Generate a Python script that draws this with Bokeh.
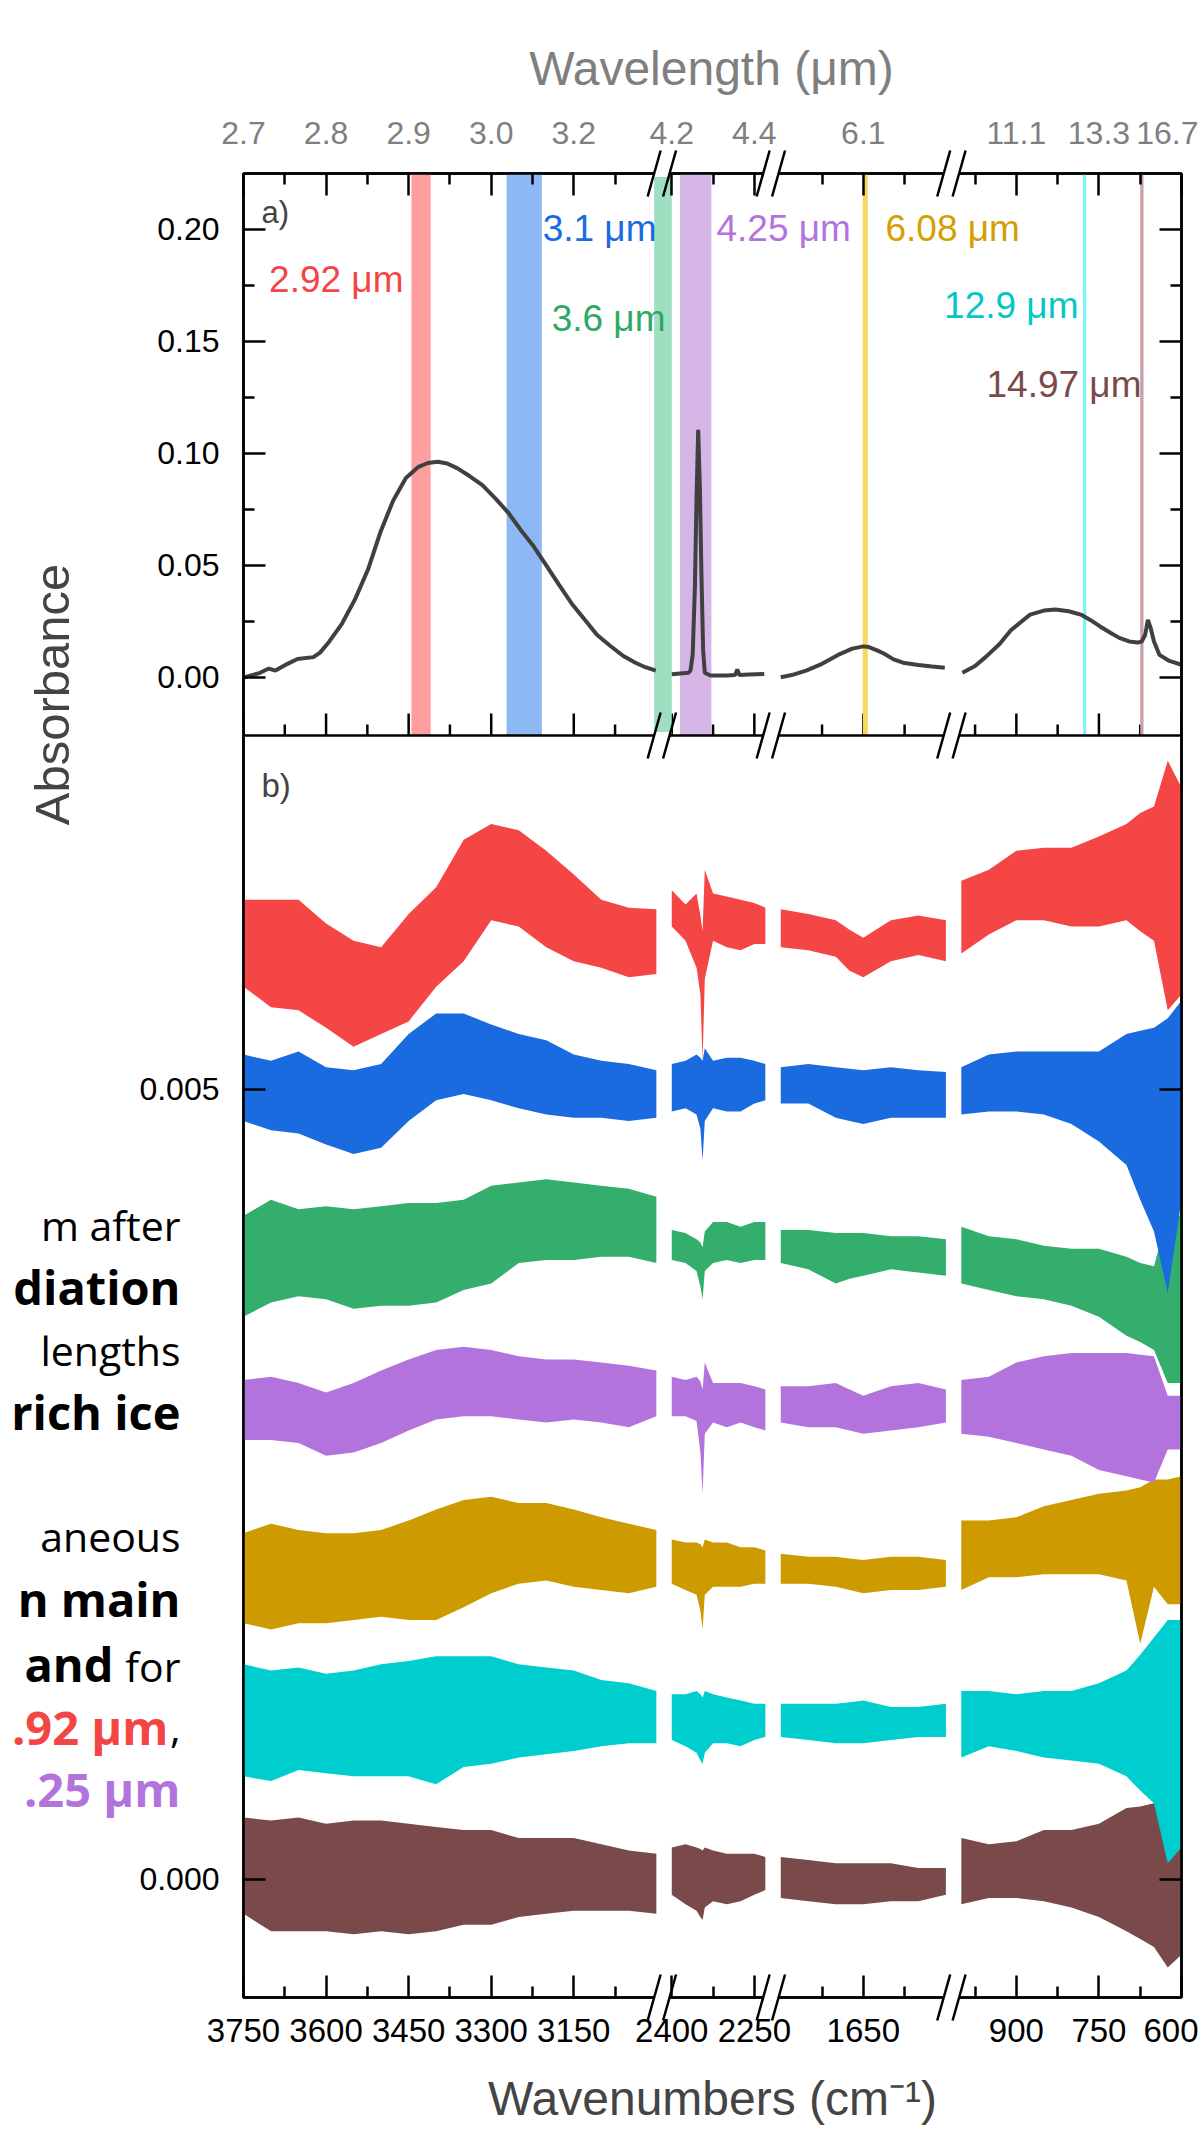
import math
from bokeh.plotting import figure
from bokeh.models import Range1d, LinearAxis, FixedTicker, Label, Span, GridBox
from bokeh.embed import file_html
from bokeh.resources import INLINE

# ======================= DATA =======================
# shown wavenumber windows of the broken axis (cm-1), left to right
SEGMENTS = [(3750, 3000), (2400, 2230), (1800, 1500), (1000, 600)]

X_MAJOR_WN = [3750, 3600, 3450, 3300, 3150, 2400, 2250, 1650, 900, 750, 600]
X_MINOR_WN = [3675, 3525, 3375, 3225, 3075, 2325, 1725, 1575, 975, 825, 675]
WAVELENGTH_LABELS = ["2.7", "2.8", "2.9", "3.0", "3.2", "4.2", "4.4", "6.1", "11.1", "13.3", "16.7"]

A_TICKS = [0.0, 0.05, 0.10, 0.15, 0.20]
A_TICK_LABELS = ["0.00", "0.05", "0.10", "0.15", "0.20"]
A_MINOR = [0.025, 0.075, 0.125, 0.175]
B_TICKS = [0.0, 0.005]
B_TICK_LABELS = ["0.000", "0.005"]

# panel a: absorbance spectrum of the ice
A_WN = [3748, 3720, 3704, 3692, 3670, 3652, 3623, 3611, 3594, 3571,
        3547, 3524, 3501, 3478, 3455, 3432, 3415, 3397, 3380, 3362,
        3340, 3316, 3293, 3270, 3247, 3223, 3200, 3177, 3154, 3131,
        3108, 3084, 3060, 3038, 3020, 3001,
        2400, 2370, 2366, 2362, 2358, 2355, 2352, 2349, 2346, 2343,
        2340, 2330, 2300, 2285, 2281, 2277, 2260, 2232,
        1800, 1780, 1754, 1725, 1696, 1670, 1650, 1640, 1625, 1612,
        1595, 1578, 1550, 1525, 1502,
        998, 975, 956, 930, 910, 890, 875, 850, 829, 805,
        783, 765, 748, 730, 713, 695, 680, 672, 666, 661,
        656, 650, 640, 622, 600]
A_ABS = [0.000, 0.002, 0.0039, 0.003, 0.006, 0.0082, 0.009, 0.011, 0.016, 0.024,
         0.035, 0.048, 0.065, 0.079, 0.089, 0.094, 0.0957, 0.0963, 0.0955, 0.0934,
         0.090, 0.0858, 0.080, 0.0738, 0.066, 0.0585, 0.050, 0.0414, 0.033, 0.026,
         0.019, 0.0141, 0.0095, 0.0065, 0.0045, 0.003,
         0.0014, 0.002, 0.003, 0.010, 0.040, 0.080, 0.1105, 0.085, 0.045, 0.012,
         0.002, 0.0008, 0.0008, 0.001, 0.0035, 0.001, 0.0012, 0.0015,
         0.000, 0.001, 0.003, 0.006, 0.010, 0.0128, 0.0138, 0.0135, 0.012, 0.0105,
         0.008, 0.0065, 0.0055, 0.0048, 0.0043,
         0.002, 0.005, 0.009, 0.015, 0.021, 0.025, 0.028, 0.0298, 0.0303, 0.0295,
         0.028, 0.0255, 0.0227, 0.020, 0.0176, 0.016, 0.0155, 0.016, 0.019, 0.0256,
         0.022, 0.016, 0.010, 0.0073, 0.0056]

# irradiation wavelengths (bands in panel a), edges in cm-1
BAND_NAMES = ["2.92 μm", "3.1 μm", "3.6 μm", "4.25 μm", "6.08 μm", "12.9 μm", "14.97 μm"]
BAND_WN_HI = [3445, 3272, 3004, 2385, 1651, 779, 675]
BAND_WN_LO = [3410, 3208, 2400, 2328, 1642, 773, 669]
BAND_FILL = ["#ff9e9e", "#8cb9f4", "#9fdfc1", "#d5b5e6", "#f6d75c", "#7ef4f4", "#c9a1a1"]
TRACE_COLORS = ["#f54646", "#1a6ae0", "#33ae6c", "#b274dc", "#cd9b00", "#00cdcd", "#7a4a4a"]
LABEL_COLORS = ["#f44545", "#1a6ae0", "#2fa864", "#b274dc", "#d4a000", "#00c8c8", "#7a4a4a"]

# panel b: difference spectra, noise envelope (upper / lower) in units of 1e-3 absorbance
B_WN = [3750, 3700, 3650, 3600, 3550, 3500, 3450, 3400, 3350, 3300, 3250, 3200, 3150, 3100, 3050, 3000,
        2400, 2375, 2355, 2348, 2344, 2340, 2325, 2300, 2275, 2250, 2230,
        1800, 1750, 1700, 1675, 1650, 1600, 1550, 1500,
        1000, 950, 900, 850, 800, 750, 700, 675, 650, 625, 600]

RED_HI = [6.20, 6.20, 6.20, 6.05, 5.94, 5.90, 6.11, 6.28, 6.58, 6.68, 6.64, 6.51, 6.36, 6.20, 6.15, 6.14,
          6.26, 6.17, 6.24, 6.10, 6.00, 6.39, 6.24, 6.22, 6.20, 6.18, 6.15,
          6.14, 6.11, 6.07, 6.01, 5.96, 6.07, 6.10, 6.07,
          6.32, 6.39, 6.51, 6.53, 6.53, 6.60, 6.68, 6.75, 6.79, 7.08, 6.91]
RED_LO = [5.65, 5.52, 5.50, 5.39, 5.27, 5.35, 5.43, 5.65, 5.81, 6.07, 6.03, 5.90, 5.81, 5.77, 5.71, 5.73,
          6.03, 5.94, 5.77, 5.60, 5.18, 5.70, 5.94, 5.90, 5.88, 5.92, 5.92,
          5.90, 5.88, 5.84, 5.75, 5.71, 5.81, 5.85, 5.81,
          5.86, 5.98, 6.07, 6.07, 6.03, 6.03, 6.07, 6.00, 5.94, 5.50, 5.60]
BLUE_HI = [5.22, 5.18, 5.24, 5.14, 5.12, 5.16, 5.35, 5.48, 5.48, 5.41, 5.35, 5.31, 5.22, 5.18, 5.16, 5.12,
           5.16, 5.18, 5.22, 5.20, 5.18, 5.26, 5.18, 5.20, 5.20, 5.18, 5.16,
           5.14, 5.16, 5.14, 5.13, 5.12, 5.14, 5.12, 5.11,
           5.14, 5.22, 5.24, 5.24, 5.24, 5.24, 5.35, 5.37, 5.39, 5.45, 5.56]
BLUE_LO = [4.80, 4.74, 4.72, 4.65, 4.59, 4.63, 4.80, 4.93, 4.97, 4.93, 4.88, 4.84, 4.82, 4.82, 4.80, 4.82,
           4.86, 4.88, 4.84, 4.75, 4.55, 4.80, 4.88, 4.86, 4.86, 4.91, 4.93,
           4.91, 4.91, 4.82, 4.80, 4.78, 4.82, 4.82, 4.82,
           4.84, 4.86, 4.86, 4.84, 4.78, 4.67, 4.52, 4.30, 4.10, 3.71, 4.30]
GREEN_HI = [4.20, 4.30, 4.24, 4.26, 4.24, 4.26, 4.28, 4.28, 4.30, 4.39, 4.41, 4.43, 4.41, 4.39, 4.37, 4.32,
            4.11, 4.09, 4.05, 4.03, 4.00, 4.10, 4.16, 4.16, 4.13, 4.16, 4.16,
            4.11, 4.11, 4.09, 4.09, 4.09, 4.07, 4.07, 4.05,
            4.13, 4.07, 4.05, 4.01, 3.99, 3.99, 3.94, 3.90, 3.88, 4.20, 4.20]
GREEN_LO = [3.56, 3.65, 3.69, 3.67, 3.61, 3.63, 3.63, 3.65, 3.73, 3.77, 3.90, 3.92, 3.92, 3.94, 3.94, 3.90,
            3.92, 3.90, 3.85, 3.75, 3.67, 3.85, 3.90, 3.92, 3.90, 3.92, 3.92,
            3.90, 3.86, 3.77, 3.80, 3.82, 3.86, 3.84, 3.82,
            3.77, 3.73, 3.69, 3.67, 3.63, 3.56, 3.44, 3.40, 3.35, 3.14, 3.14]
PURPLE_HI = [3.16, 3.18, 3.14, 3.08, 3.14, 3.22, 3.29, 3.35, 3.37, 3.35, 3.31, 3.29, 3.29, 3.27, 3.25, 3.22,
             3.18, 3.16, 3.18, 3.15, 3.10, 3.27, 3.14, 3.14, 3.14, 3.12, 3.10,
             3.12, 3.12, 3.14, 3.10, 3.06, 3.12, 3.14, 3.10,
             3.16, 3.18, 3.27, 3.31, 3.33, 3.33, 3.33, 3.32, 3.31, 3.06, 3.06]
PURPLE_LO = [2.78, 2.78, 2.76, 2.68, 2.70, 2.76, 2.84, 2.91, 2.93, 2.93, 2.91, 2.89, 2.91, 2.89, 2.86, 2.93,
             2.93, 2.93, 2.90, 2.70, 2.44, 2.82, 2.89, 2.86, 2.89, 2.86, 2.84,
             2.89, 2.86, 2.86, 2.84, 2.82, 2.84, 2.86, 2.89,
             2.82, 2.80, 2.76, 2.72, 2.68, 2.59, 2.55, 2.53, 2.51, 2.72, 2.72]
GOLD_HI = [2.19, 2.25, 2.21, 2.19, 2.19, 2.21, 2.27, 2.34, 2.40, 2.42, 2.38, 2.38, 2.34, 2.29, 2.25, 2.21,
           2.15, 2.13, 2.13, 2.12, 2.10, 2.15, 2.13, 2.13, 2.10, 2.10, 2.08,
           2.06, 2.04, 2.04, 2.03, 2.02, 2.04, 2.04, 2.02,
           2.27, 2.27, 2.29, 2.36, 2.40, 2.44, 2.46, 2.48, 2.53, 2.53, 2.55]
GOLD_LO = [1.62, 1.58, 1.62, 1.62, 1.64, 1.66, 1.64, 1.64, 1.72, 1.81, 1.87, 1.89, 1.85, 1.83, 1.81, 1.85,
           1.87, 1.83, 1.80, 1.70, 1.58, 1.80, 1.85, 1.85, 1.85, 1.87, 1.87,
           1.87, 1.87, 1.85, 1.83, 1.81, 1.83, 1.83, 1.85,
           1.83, 1.91, 1.91, 1.93, 1.93, 1.93, 1.89, 1.49, 1.85, 1.74, 1.74]
CYAN_HI = [1.36, 1.32, 1.34, 1.30, 1.32, 1.36, 1.38, 1.41, 1.41, 1.41, 1.36, 1.34, 1.32, 1.26, 1.24, 1.19,
           1.17, 1.17, 1.19, 1.17, 1.15, 1.19, 1.17, 1.15, 1.13, 1.11, 1.11,
           1.11, 1.11, 1.11, 1.12, 1.13, 1.09, 1.09, 1.11,
           1.19, 1.19, 1.17, 1.19, 1.19, 1.24, 1.32, 1.42, 1.53, 1.64, 1.64]
CYAN_LO = [0.65, 0.62, 0.69, 0.67, 0.65, 0.65, 0.65, 0.60, 0.71, 0.73, 0.77, 0.79, 0.81, 0.84, 0.86, 0.86,
           0.88, 0.84, 0.80, 0.75, 0.73, 0.80, 0.86, 0.86, 0.84, 0.88, 0.90,
           0.90, 0.88, 0.86, 0.86, 0.86, 0.88, 0.90, 0.90,
           0.77, 0.84, 0.81, 0.77, 0.75, 0.73, 0.65, 0.56, 0.48, 0.10, 0.20]
BROWN_HI = [0.39, 0.37, 0.39, 0.35, 0.37, 0.37, 0.35, 0.33, 0.31, 0.31, 0.26, 0.26, 0.26, 0.22, 0.18, 0.16,
            0.20, 0.22, 0.20, 0.19, 0.18, 0.20, 0.18, 0.16, 0.16, 0.16, 0.14,
            0.14, 0.12, 0.10, 0.10, 0.10, 0.10, 0.07, 0.07,
            0.26, 0.22, 0.24, 0.31, 0.31, 0.35, 0.45, 0.46, 0.48, 0.65, 0.48]
BROWN_LO = [-0.22, -0.33, -0.33, -0.33, -0.35, -0.33, -0.35, -0.33, -0.29, -0.29, -0.24, -0.22, -0.20, -0.20, -0.20, -0.22,
            -0.10, -0.16, -0.20, -0.24, -0.26, -0.18, -0.14, -0.16, -0.14, -0.10, -0.07,
            -0.12, -0.14, -0.16, -0.16, -0.16, -0.14, -0.14, -0.10,
            -0.16, -0.12, -0.12, -0.14, -0.18, -0.24, -0.33, -0.38, -0.43, -0.56, -0.48]

TRACES_HI = [RED_HI, BLUE_HI, GREEN_HI, PURPLE_HI, GOLD_HI, CYAN_HI, BROWN_HI]
TRACES_LO = [RED_LO, BLUE_LO, GREEN_LO, PURPLE_LO, GOLD_LO, CYAN_LO, BROWN_LO]

# ======================= GEOMETRY (canvas pixels == page pixels) =======================
W, H = 1198, 2128
BL, BT = 243, 173
FW, FH = 938, 1824
BR, BB = W - BL - FW, H - BT - FH
HB = 1262                 # height of panel b (px); panel a sits above it
HA = FH - HB
GAP = 28                  # width of an axis break, in cm-1 equivalents
A_LO, A_HI = -0.026, 0.225
B_LO, B_HI = -0.00075, 0.00724

SEG_START = []
_s = 0
for hi, lo in SEGMENTS:
    SEG_START.append(_s)
    _s += (hi - lo) + GAP
U_MAX = _s - GAP
PX_PER_U = FW / U_MAX


def seg_of(nu):
    for i, (hi, lo) in enumerate(SEGMENTS):
        if lo - 60 <= nu <= hi + 60:
            return i
    return None


def to_u(nu):
    i = seg_of(nu)
    return SEG_START[i] + (SEGMENTS[i][0] - nu)


def ya(a):
    return HB + (a - A_LO) * HA / (A_HI - A_LO)


def yb(v):
    return (v - B_LO) * HB / (B_HI - B_LO)


def ux(px):      # canvas pixel -> main-figure x data
    return (px - BL) / PX_PER_U


def vy(py):      # canvas pixel -> main-figure y data
    return (BT + FH) - py


def cx(u):       # main-figure x data -> canvas pixel
    return BL + u * PX_PER_U


def cy(y):
    return BT + FH - y


FONT = "Liberation Sans"

p = figure(width=W, height=H, x_range=Range1d(0, U_MAX), y_range=Range1d(0, FH),
           x_axis_location=None, y_axis_location=None, toolbar_location=None,
           output_backend="svg", min_border_left=BL, min_border_right=BR,
           min_border_top=BT, min_border_bottom=BB)
p.frame_align = False
p.grid.visible = False
p.outline_line_color = "black"
p.outline_line_width = 2.5
p.background_fill_color = "white"
p.border_fill_color = "white"

# ---------- axes ----------
xmaj = [to_u(n) for n in X_MAJOR_WN]
xmin = [to_u(n) for n in X_MINOR_WN]


def style_axis(ax):
    ax.axis_line_width = 2.5
    ax.major_tick_line_width = 2.5
    ax.minor_tick_line_width = 2.5
    ax.major_tick_in = 22
    ax.major_tick_out = 0
    ax.minor_tick_in = 11
    ax.minor_tick_out = 0
    ax.major_label_text_font = FONT
    ax.major_label_text_color = "black"


bottom = LinearAxis(ticker=FixedTicker(ticks=xmaj, minor_ticks=xmin))
bottom.major_label_overrides = {u: str(n) for u, n in zip(xmaj, X_MAJOR_WN)}
style_axis(bottom)
bottom.major_label_text_font_size = "33px"
bottom.major_label_standoff = 21
p.add_layout(bottom, "below")

top = LinearAxis(ticker=FixedTicker(ticks=xmaj, minor_ticks=xmin))
top.major_label_overrides = {u: s for u, s in zip(xmaj, WAVELENGTH_LABELS)}
style_axis(top)
top.major_label_text_font_size = "32px"
top.major_label_text_color = "#7f7f7f"
top.major_label_standoff = 30
p.add_layout(top, "above")

ymaj = [round(ya(a), 3) for a in A_TICKS] + [round(yb(v), 3) for v in B_TICKS]
ymin = [round(ya(a), 3) for a in A_MINOR]
left = LinearAxis(ticker=FixedTicker(ticks=ymaj, minor_ticks=ymin))
left.major_label_overrides = {t: s for t, s in zip(ymaj, A_TICK_LABELS + B_TICK_LABELS)}
style_axis(left)
left.major_label_text_font_size = "32px"
left.major_label_standoff = 24
p.add_layout(left, "left")

right = LinearAxis(ticker=FixedTicker(ticks=ymaj, minor_ticks=ymin))
right.major_label_overrides = {t: "" for t in ymaj}
style_axis(right)
right.major_label_text_font_size = "1px"
right.major_label_standoff = 0
p.add_layout(right, "right")

# divider between the panels, with panel a's inward bottom ticks
p.add_layout(Span(location=HB, dimension="width", line_color="black", line_width=2.5))
p.segment(x0=xmaj, y0=[HB] * len(xmaj), x1=xmaj, y1=[HB + 22] * len(xmaj),
          line_color="black", line_width=2.5)
p.segment(x0=xmin, y0=[HB] * len(xmin), x1=xmin, y1=[HB + 11] * len(xmin),
          line_color="black", line_width=2.5)

# ---------- panel a ----------
p.quad(left=[to_u(n) for n in BAND_WN_HI], right=[to_u(n) for n in BAND_WN_LO],
       bottom=[ya(A_LO)] * len(BAND_WN_HI), top=[ya(A_HI)] * len(BAND_WN_HI),
       fill_color=BAND_FILL, line_color=None)

for i in range(len(SEGMENTS)):
    xs = [to_u(n) for n in A_WN if seg_of(n) == i]
    ys = [ya(a) for n, a in zip(A_WN, A_ABS) if seg_of(n) == i]
    p.line(xs, ys, line_color="#404040", line_width=4)

# (right/left edge x, vertical centre y, alignment) in canvas pixels
LAB_POS = [(403, 279, "right"), (656, 228, "right"), (665, 318, "right"), (716, 228, "left"),
           (885, 228, "left"), (1078, 305, "right"), (1141, 384, "right")]
for name, col, (px, py, al) in zip(BAND_NAMES, LABEL_COLORS, LAB_POS):
    p.add_layout(Label(x=ux(px), y=vy(py), text=name, text_color=col, text_font=FONT,
                       text_font_size="37px", text_align=al, text_baseline="middle"))

p.add_layout(Label(x=ux(261), y=vy(212), text="a)", text_font=FONT, text_font_size="31px",
                   text_baseline="middle"))
p.add_layout(Label(x=ux(261), y=vy(785), text="b)", text_font=FONT, text_font_size="33px",
                   text_baseline="middle"))

# ---------- panel b ----------
for k in reversed(range(len(TRACES_HI))):
    for i in range(len(SEGMENTS)):
        idx = [j for j, n in enumerate(B_WN) if seg_of(n) == i]
        p.varea(x=[to_u(B_WN[j]) for j in idx],
                y1=[yb(TRACES_LO[k][j] / 1000) for j in idx],
                y2=[yb(TRACES_HI[k][j] / 1000) for j in idx],
                fill_color=TRACE_COLORS[k])

# ======================= OVERLAY (titles, side text, axis breaks) =======================
ov = figure(width=W, height=H, x_range=Range1d(0, W), y_range=Range1d(H, 0),
            x_axis_location=None, y_axis_location=None, toolbar_location=None,
            output_backend="svg", min_border=0)
ov.frame_align = False
ov.grid.visible = False
ov.outline_line_color = None
ov.background_fill_color = None
ov.border_fill_color = None


def olabel(px, py, text, **kw):
    opts = dict(text_font=FONT, text_baseline="middle")
    opts.update(kw)
    ov.add_layout(Label(x=px, y=py, text=text, **opts))


olabel(711, 68, "Wavelength (μm)", text_font_size="48px", text_color="#7f7f7f",
       text_align="center")
olabel(712, 2098, "Wavenumbers (cm⁻¹)", text_font_size="48px", text_align="center")
olabel(51, 694, "Absorbance", text_font_size="49px", angle=math.pi / 2, text_align="center")

# text block at the left edge (cut by the image border in the original)
SIDE = [("m after", "normal", "black", 180, 1224, 41),
        ("diation", "bold", "black", 180, 1286, 47),
        ("lengths", "normal", "black", 180, 1349, 41),
        ("rich ice", "bold", "black", 180, 1411, 47),
        ("aneous", "normal", "black", 180, 1535, 41),
        ("n main", "bold", "black", 180, 1598, 47),
        ("and", "bold", "black", 113, 1663, 47),
        ("for", "normal", "black", 180, 1665, 41),
        (".92 μm", "bold", "#f44545", 168, 1726, 47),
        (",", "normal", "black", 180, 1728, 41),
        (".25 μm", "bold", "#b274dc", 180, 1788, 47)]
for txt, st, col, px, py, fs in SIDE:
    olabel(px, py, txt, text_font="Open Sans", text_font_size=f"{fs}px", text_font_style=st,
           text_color=col, text_align="right")

# axis-break marks "//" across the frame lines (top, divider, bottom)
HX, HY = 6.5, 23
sx0, sy0, sx1, sy1 = [], [], [], []
gap_xs, gap_ys = [], []
for i in range(len(SEGMENTS) - 1):
    end_u = SEG_START[i] + SEGMENTS[i][0] - SEGMENTS[i][1]
    xa, xb = cx(end_u - 4), cx(SEG_START[i + 1] - 4)
    for yline in (0, HB, FH):
        yc = cy(yline)
        k = HX / HY * 3.5
        gap_xs.append([xa + k, xb + k, xb - k, xa - k])
        gap_ys.append([yc - 3.5, yc - 3.5, yc + 3.5, yc + 3.5])
        for xc in (xa, xb):
            sx0.append(xc - HX)
            sy0.append(yc + HY)
            sx1.append(xc + HX)
            sy1.append(yc - HY)
ov.patches(gap_xs, gap_ys, fill_color="white", line_color=None)
ov.segment(x0=sx0, y0=sy0, x1=sx1, y1=sy1, line_color="black", line_width=2.5)

root = GridBox(children=[(p, 0, 0), (ov, 0, 0)])
open("out.html", "w").write(file_html(root, INLINE))
